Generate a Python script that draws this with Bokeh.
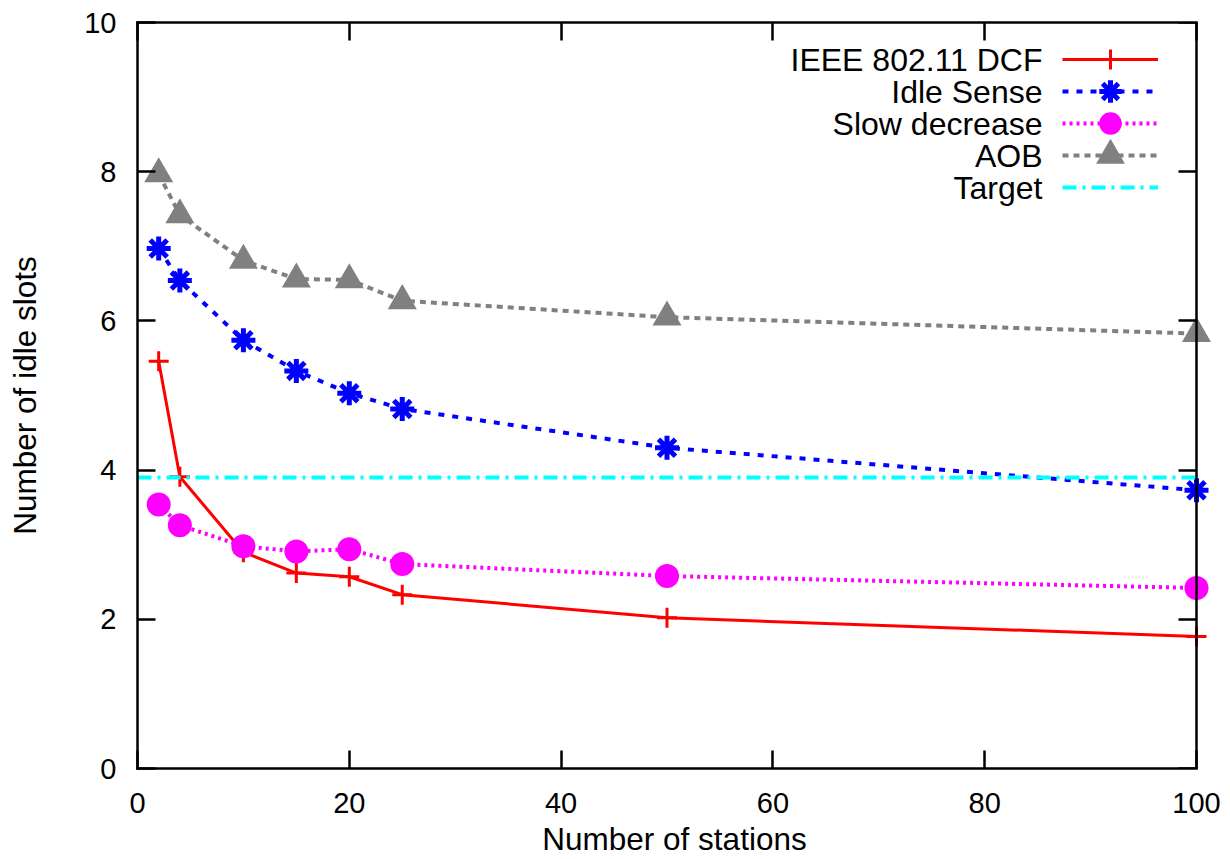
from bokeh.plotting import figure
from bokeh.models import LinearAxis, Legend, LegendItem, Label, Range1d, FixedTicker
from bokeh.embed import file_html
from bokeh.resources import INLINE

# Mean number of idle slots between transmissions vs. number of stations
stations = [2, 4, 10, 15, 20, 25, 50, 100]
dcf = [5.46, 3.91, 2.90, 2.62, 2.57, 2.33, 2.02, 1.77]
idle_sense = [6.97, 6.54, 5.74, 5.33, 5.03, 4.82, 4.30, 3.73]
slow_decrease = [3.54, 3.26, 2.98, 2.91, 2.94, 2.74, 2.58, 2.42]
aob = [7.97, 7.42, 6.81, 6.56, 6.55, 6.27, 6.05, 5.83]
target = 3.9

x_limits = [0, 100]
y_limits = [0, 10]
x_ticks = [0, 20, 40, 60, 80, 100]
y_ticks = [0, 2, 4, 6, 8, 10]
names = ["IEEE 802.11 DCF", "Idle Sense", "Slow decrease", "AOB", "Target"]

FONT = "Liberation Sans"
W, H = 1230, 859
# axis box on the canvas; the drawing frame runs a little past the right
# edge of the box so the markers at the last station are drawn whole
BL, BR, BT, BB = 137, 1196, 22, 768
PAD_R = 15
FL, FR, FT, FB = BL, BR + PAD_R, BT, BB

x_per_px = (x_limits[1] - x_limits[0]) / (BR - BL)
x_range = Range1d(x_limits[0], x_limits[1] + PAD_R * x_per_px)
y_range = Range1d(*y_limits)

p = figure(width=W, height=H, output_backend="svg", toolbar_location=None,
           x_range=x_range, y_range=y_range,
           x_axis_location=None, y_axis_location=None,
           min_border_left=FL, min_border_right=W - FR,
           min_border_top=FT, min_border_bottom=H - FB)
p.grid.visible = False
p.background_fill_color = "white"
p.border_fill_color = "white"
p.outline_line_color = None


def make_axis(side, ticks, show_labels, **kw):
    ax = LinearAxis(ticker=FixedTicker(ticks=ticks), **kw)
    ax.axis_line_color = "black"
    ax.axis_line_width = 2.5
    ax.axis_line_cap = "square"
    ax.major_tick_in = 18
    ax.major_tick_out = 0
    ax.major_tick_line_width = 2.5
    ax.major_tick_line_color = "black"
    ax.minor_tick_line_color = None
    ax.major_label_text_font = FONT
    ax.axis_label_text_font = FONT
    ax.axis_label_text_font_style = "normal"
    ax.axis_label_text_font_size = "31.5px"
    ax.axis_label_text_color = "black"
    if show_labels:
        ax.major_label_text_font_size = "29px"
        ax.major_label_text_color = "black"
    else:
        ax.major_label_text_font_size = "1px"
        ax.major_label_text_color = None
        ax.major_label_standoff = 0
    p.add_layout(ax, side)
    return ax


xb = make_axis("below", x_ticks, True, bounds=tuple(x_limits),
               axis_label="Number of stations")
xb.major_label_standoff = 24
xb.axis_label_standoff = 5
yl = make_axis("left", y_ticks, True, axis_label="Number of idle slots")
yl.major_label_standoff = 21
yl.axis_label_standoff = 38
make_axis("above", x_ticks, False, bounds=tuple(x_limits))
make_axis("right", y_ticks, False, fixed_location=x_limits[1])

# Series
r_dcf_l = p.line(stations, dcf, line_color="#ff0000", line_width=3)
r_dcf_m = p.scatter(stations, dcf, marker="cross", size=20,
                    line_color="#ff0000", line_width=3)

r_is_l = p.line(stations, idle_sense, line_color="#0000ff", line_width=4,
                line_dash="6 8")
r_is_m = p.scatter(stations, idle_sense, marker="asterisk", size=24,
                   line_color="#0000ff", line_width=5)

r_sd_l = p.line(stations, slow_decrease, line_color="#ff00ff", line_width=4,
                line_dash="3 4")
r_sd_m = p.scatter(stations, slow_decrease, marker="circle", size=24,
                   fill_color="#ff00ff", line_color=None)

r_aob_l = p.line(stations, aob, line_color="#808080", line_width=4,
                 line_dash="6 5")
r_aob_m = p.scatter(stations, aob, marker="triangle", size=29,
                    fill_color="#808080", line_color=None)

r_tg = p.line(x_limits, [target, target], line_color="#00ffff", line_width=4,
              line_dash="14 6 3 6")

# Key: right-aligned text, sample to its right
ROW0, STEP = 59, 32          # first row centre and row pitch (canvas px)
GLYPH_L, GLYPH_W = 1062, 96  # sample left edge and width
TEXT_R = 1042
key_renderers = [[r_dcf_l, r_dcf_m], [r_is_l, r_is_m], [r_sd_l, r_sd_m],
                 [r_aob_l, r_aob_m], [r_tg]]
key_heights = [50, 56, 56, 72, 40]   # marker size in the key = 0.4 * height

for i, (name, rends, gh) in enumerate(zip(names, key_renderers, key_heights)):
    yc = ROW0 + i * STEP
    leg = Legend(items=[LegendItem(label=" ", renderers=rends)],
                 location=(GLYPH_L - FL, FB - (yc + gh / 2)),
                 glyph_width=GLYPH_W, glyph_height=gh, spacing=0,
                 padding=0, margin=0, label_width=0, label_standoff=0,
                 label_height=gh, label_text_font_size="30px",
                 label_text_alpha=0,
                 border_line_color=None, background_fill_alpha=0)
    p.add_layout(leg)
    p.add_layout(Label(x=TEXT_R - FL, y=FB - yc, x_units="screen",
                       y_units="screen", text=name, text_align="right",
                       text_baseline="middle", text_font=FONT,
                       text_font_size="32px", text_color="black"))

open("out.html", "w").write(file_html(p, INLINE))
